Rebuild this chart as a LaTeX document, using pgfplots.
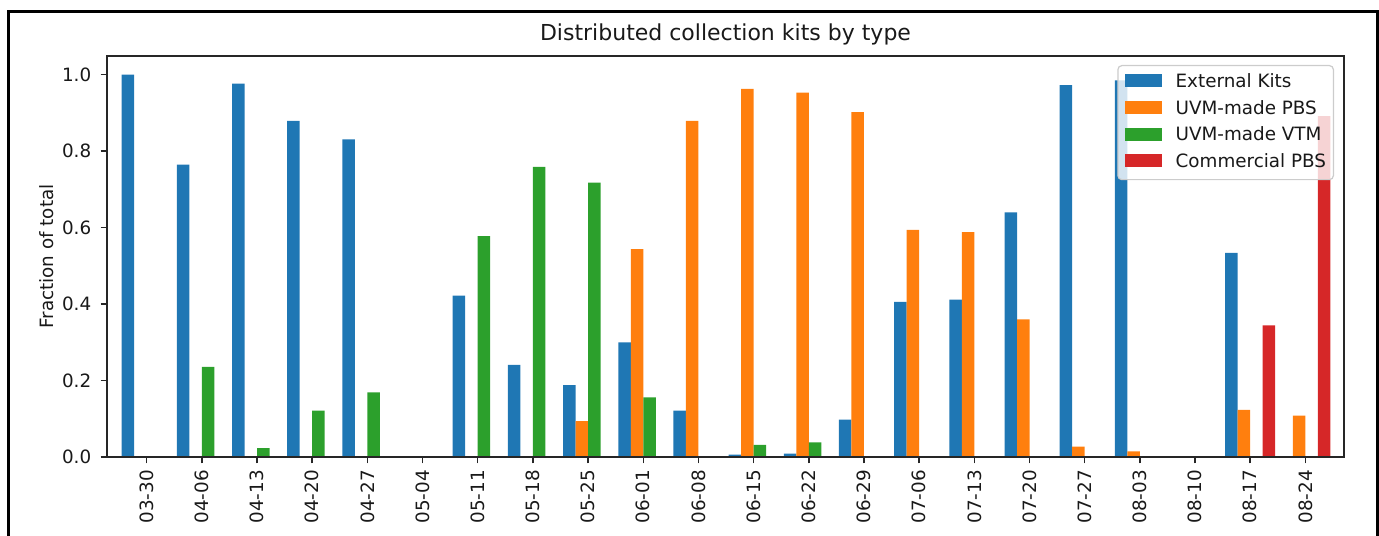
\documentclass[border=0pt]{standalone}
\usepackage{pgfplots}
\pgfplotsset{compat=1.18}
\usepackage{pgfplotstable}
\usepackage{fontspec}
\setmainfont{DejaVu Sans}
\definecolor{cA}{HTML}{1F77B4}
\definecolor{cB}{HTML}{FF7F0E}
\definecolor{cC}{HTML}{2CA02C}
\definecolor{cD}{HTML}{D62728}

% x: 0 = 03-30, ..., 21 = 08-24
\pgfplotstableread{
x ext pbs vtm com
0 1.000 0 0 0
1 0.765 0 0.236 0
2 0.977 0 0.0235 0
3 0.879 0 0.121 0
4 0.831 0 0.169 0
5 0 0 0 0
6 0.422 0 0.578 0
7 0.241 0 0.759 0
8 0.188 0.094 0.718 0
9 0.300 0.544 0.156 0
10 0.121 0.879 0 0
11 0.006 0.963 0.032 0
12 0.009 0.953 0.038 0
13 0.098 0.902 0 0
14 0.406 0.594 0 0
15 0.412 0.588 0 0
16 0.640 0.360 0 0
17 0.973 0.027 0 0
18 0.985 0.015 0 0
19 0 0 0 0
20 0.534 0.123 0 0.344
21 0 0.108 0 0.892
}\kits

\begin{document}
\begin{tikzpicture}
\path[use as bounding box] (0,0) rectangle (689.5pt,267.5pt);
\draw[line width=1.4pt, black] (4.25pt,-20pt) -- (4.25pt,261.75pt) -- (688.75pt,261.75pt) -- (688.75pt,-20pt);
\begin{axis}[
  at={(53.5pt,39pt)}, anchor=south west,
  scale only axis, width=618.5pt, height=200.5pt,
  xmin=-0.719, xmax=21.70, ymin=0, ymax=1.049,
  axis on top,
  axis line style={line width=0.73pt, black!85},
  tick align=outside, major tick length=3.2pt,
  tick style={line width=0.73pt, black!85},
  xtick pos=bottom, ytick pos=left,
  xtick={0,...,21},
  xticklabels={03-30,04-06,04-13,04-20,04-27,05-04,05-11,05-18,05-25,06-01,06-08,06-15,06-22,06-29,07-06,07-13,07-20,07-27,08-03,08-10,08-17,08-24},
  xticklabel style={rotate=90, anchor=east, inner sep=0pt},
  xticklabel shift=3.2pt,
  ytick={0,0.2,0.4,0.6,0.8,1.0},
  yticklabel style={inner sep=0pt, /pgf/number format/fixed, /pgf/number format/fixed zerofill, /pgf/number format/precision=1},
  yticklabel shift=4.5pt,
  /pgf/number format/assume math mode=true,
  ticklabel style={font=\fontsize{9.17}{11}\selectfont, text=black!90},
  ylabel={Fraction of total},
  ylabel style={at={(axis description cs:-0.04875,0.5)}, anchor=center, inner sep=0pt, font=\fontsize{9.17}{11}\selectfont, text=black!90},
  title={Distributed collection kits by type},
  every axis title/.style={at={(axis description cs:0.5,1)}, anchor=south, yshift=5.5pt, inner sep=0pt, font=\fontsize{11}{13}\selectfont, text=black!90},
  legend style={at={(0.9919,0.9776)}, anchor=north east,
    draw=black!20, line width=0.6pt, fill=white, fill opacity=0.8, text opacity=1,
    rounded corners=2pt,
    font=\fontsize{9.17}{11}\selectfont, text=black!90,
    inner xsep=3.65pt, inner ysep=3.94pt,
    row sep=4.25pt, column sep=6.7pt,
    nodes={inner sep=0pt, text height=7pt, text depth=2.1pt},
    cells={anchor=base west}},
  legend image code/.code={\fill[#1, sharp corners, fill opacity=1] (0pt,0.14pt) rectangle (18.5pt,6.54pt);},
]
\addplot[ybar, bar width=0.2265, bar shift=-0.34, fill=cA, draw=none] table[x=x, y=ext] {\kits};
\addlegendentry{External Kits}
\addplot[ybar, bar width=0.2265, bar shift=-0.113, fill=cB, draw=none] table[x=x, y=pbs] {\kits};
\addlegendentry{UVM-made PBS}
\addplot[ybar, bar width=0.2265, bar shift=0.113, fill=cC, draw=none] table[x=x, y=vtm] {\kits};
\addlegendentry{UVM-made VTM}
\addplot[ybar, bar width=0.2265, bar shift=0.34, fill=cD, draw=none] table[x=x, y=com] {\kits};
\addlegendentry{Commercial PBS}
\end{axis}
\end{tikzpicture}
\end{document}
